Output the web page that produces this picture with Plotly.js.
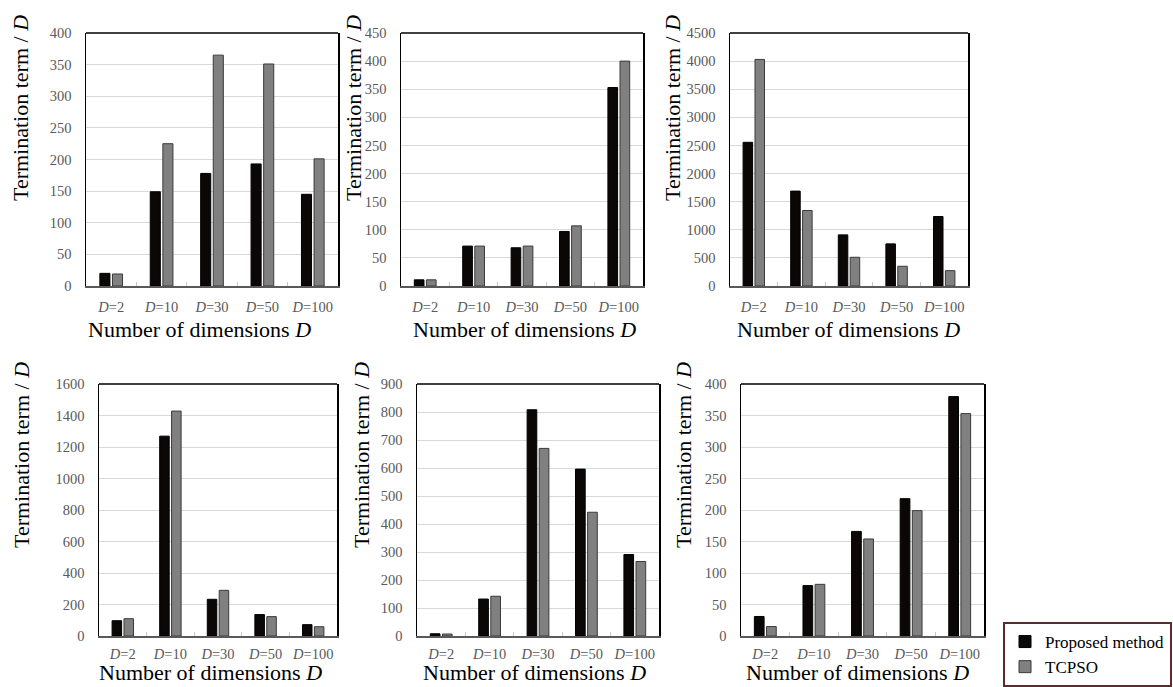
<!DOCTYPE html>
<html>
<head>
<meta charset="utf-8">
<script src="https://cdn.plot.ly/plotly-3.0.1.min.js"></script>
<style>
  html, body { margin: 0; padding: 0; background: #fff; }
  #chart { width: 1173px; height: 687px; }
</style>
</head>
<body>
<div id="chart"></div>
<script>
// Dimension categories shared by every panel
const categories = ['D=2', 'D=10', 'D=30', 'D=50', 'D=100'];
const categoryLabels = ['<i>D</i>=2', '<i>D</i>=10', '<i>D</i>=30', '<i>D</i>=50', '<i>D</i>=100'];
const seriesNames = ['Proposed method', 'TCPSO'];

// Termination term / D for each benchmark panel
const panel1Proposed = [20, 149, 178, 193, 145];
const panel1Tcpso    = [19, 225, 365, 351, 201];
const panel2Proposed = [11, 71, 68, 97, 353];
const panel2Tcpso    = [11, 71, 71, 107, 400];
const panel3Proposed = [2556, 1688, 909, 749, 1236];
const panel3Tcpso    = [4030, 1343, 511, 351, 273];
const panel4Proposed = [97, 1269, 233, 136, 72];
const panel4Tcpso    = [110, 1428, 290, 123, 59];
const panel5Proposed = [8, 132, 808, 596, 291];
const panel5Tcpso    = [7, 142, 670, 442, 266];
const panel6Proposed = [31, 80, 166, 218, 380];
const panel6Tcpso    = [15, 82, 154, 199, 353];

// Y-axis maxima and tick steps
const yMax  = [400, 450, 4500, 1600, 900, 400];
const yStep = [50, 50, 500, 200, 100, 50];

const proposedSets = [panel1Proposed, panel2Proposed, panel3Proposed, panel4Proposed, panel5Proposed, panel6Proposed];
const tcpsoSets    = [panel1Tcpso, panel2Tcpso, panel3Tcpso, panel4Tcpso, panel5Tcpso, panel6Tcpso];

const W = 1173, H = 687;
const FONT = 'Liberation Serif';

// Plot-area boxes in pixels: [left, right, top, bottom]
const boxes = [
  [86, 338, 33, 286], [401, 643, 33, 286], [730, 968, 33, 286],
  [99, 337, 384, 636], [417, 659, 384, 636], [741, 984, 384, 636]
];
// Axis title centres in pixels
const yTitlePos = [[20, 108], [353, 108], [672, 108], [22, 455], [362, 455], [684, 455]];
const xTitlePos = [[199, 329], [524, 329], [848, 329], [210, 672.5], [534, 672.5], [857, 672.5]];
// Gap between axis line and category labels (bottom row sits tighter)
const xLabelGap = [7, 7, 7, 4, 4, 4];

const traces = [];
const layout = {
  width: W, height: H,
  margin: {l: 0, r: 0, t: 0, b: 0},
  paper_bgcolor: '#fff', plot_bgcolor: '#fff',
  font: {family: FONT, color: '#000'},
  barmode: 'group',
  bargap: 0.5,
  bargroupgap: 0.2,
  showlegend: true,
  // legend sits flush with the bottom edge of the page
  legend: {
    x: 1003 / W, y: 0, xanchor: 'left', yanchor: 'bottom',
    bgcolor: '#fff', bordercolor: '#5b2c2c', borderwidth: 2,
    font: {family: FONT, size: 17, color: '#000'},
    tracegroupgap: 0
  },
  annotations: [],
  shapes: []
};

for (let i = 0; i < 6; i++) {
  const n = i + 1;
  const xa = 'x' + (n === 1 ? '' : n);
  const ya = 'y' + (n === 1 ? '' : n);
  const b = boxes[i];

  traces.push({
    type: 'bar', name: seriesNames[0], x: categories, y: proposedSets[i],
    xaxis: xa, yaxis: ya, showlegend: i === 0, legendgroup: 'p',
    marker: {color: '#0b0707', line: {color: '#000', width: 1}}
  });
  traces.push({
    type: 'bar', name: seriesNames[1], x: categories, y: tcpsoSets[i],
    xaxis: xa, yaxis: ya, showlegend: i === 0, legendgroup: 't',
    marker: {color: '#808080', line: {color: '#3a3a3a', width: 1}}
  });

  layout['xaxis' + (n === 1 ? '' : n)] = {
    domain: [b[0] / W, b[1] / W],
    anchor: ya,
    type: 'category',
    tickvals: categories, ticktext: categoryLabels,
    tickangle: 0,
    tickfont: {family: FONT, size: 14.5, color: '#595959'},
    ticks: 'inside', ticklen: 4, tickcolor: '#c8c8c8', tickson: 'boundaries',
    ticklabelstandoff: xLabelGap[i],
    showline: true, linecolor: '#595959', linewidth: 1.5,
    showgrid: false, zeroline: false, fixedrange: true
  };
  layout['yaxis' + (n === 1 ? '' : n)] = {
    domain: [1 - b[3] / H, 1 - b[2] / H],
    anchor: xa,
    range: [0, yMax[i]],
    dtick: yStep[i], tick0: 0,
    tickformat: 'd',
    tickfont: {family: FONT, size: 14.5, color: '#595959'},
    ticks: '', ticklabelstandoff: 10,
    showline: true, linecolor: '#000', linewidth: 1.5, mirror: true,
    showgrid: true, gridcolor: '#d9d9d9', gridwidth: 1,
    zeroline: false, fixedrange: true
  };

  // top edge of the frame
  layout.shapes.push({
    type: 'line', xref: xa + ' domain', yref: ya + ' domain',
    x0: 0, x1: 1, y0: 1, y1: 1, line: {color: '#000', width: 1.5}
  });

  layout.annotations.push({
    text: 'Termination term / <i>D</i>', textangle: -90,
    xref: 'paper', yref: 'paper',
    x: yTitlePos[i][0] / W, y: 1 - yTitlePos[i][1] / H,
    xanchor: 'center', yanchor: 'middle', showarrow: false,
    font: {family: FONT, size: 22, color: '#000'}
  });
  layout.annotations.push({
    text: 'Number of dimensions <i>D</i>',
    xref: 'paper', yref: 'paper',
    x: xTitlePos[i][0] / W, y: 1 - xTitlePos[i][1] / H,
    xanchor: 'center', yanchor: 'middle', showarrow: false, borderpad: 0,
    font: {family: FONT, size: 22, color: '#000'}
  });
}

Plotly.newPlot('chart', traces, layout, {displayModeBar: false, staticPlot: true});
</script>
</body>
</html>
